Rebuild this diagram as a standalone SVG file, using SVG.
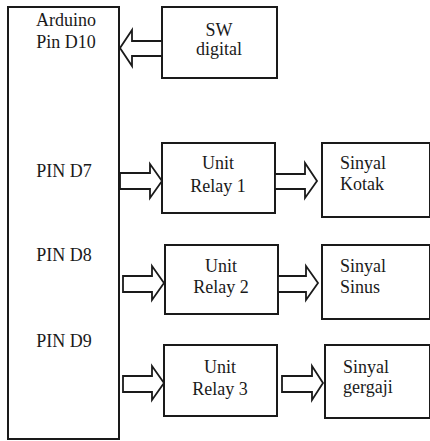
<svg xmlns="http://www.w3.org/2000/svg" width="430" height="441" viewBox="0 0 430 441">
<style>
.box{fill:#fff;stroke:#1a1a1a;stroke-width:2}
.arr{fill:#fff;stroke:#1a1a1a;stroke-width:1.8;stroke-linejoin:miter}
.t{font-family:'Liberation Serif','Times New Roman',serif;font-size:18px;fill:#1a1a1a}
.c{text-anchor:middle}
</style>
<rect width="430" height="441" fill="#fff"/>
<g id="arduino">
<rect class="box" x="8" y="7" width="111" height="432"/>
<text class="t c" x="66" y="26">Arduino</text>
<text class="t c" x="66" y="48">Pin D10</text>
<text class="t c" x="64" y="177">PIN D7</text>
<text class="t c" x="64" y="261">PIN D8</text>
<text class="t c" x="64" y="347">PIN D9</text>
</g>
<g id="sw">
<rect class="box" x="162" y="7" width="115" height="71"/>
<text class="t c" x="219" y="36">SW</text>
<text class="t c" x="219" y="55">digital</text>
</g>
<g id="relay1">
<rect class="box" x="162" y="143" width="113" height="70"/>
<text class="t c" x="218" y="169">Unit</text>
<text class="t c" x="218" y="192">Relay 1</text>
</g>
<g id="relay2">
<rect class="box" x="165" y="245" width="113" height="69"/>
<text class="t c" x="221" y="272">Unit</text>
<text class="t c" x="221" y="293">Relay 2</text>
</g>
<g id="relay3">
<rect class="box" x="164" y="345" width="113" height="71"/>
<text class="t c" x="220" y="373">Unit</text>
<text class="t c" x="220" y="395">Relay 3</text>
</g>
<g id="kotak">
<rect class="box" x="322" y="143" width="108" height="74"/>
<text class="t" x="340" y="169">Sinyal</text>
<text class="t" x="340" y="190">Kotak</text>
</g>
<g id="sinus">
<rect class="box" x="322" y="245" width="108" height="74"/>
<text class="t" x="340" y="272">Sinyal</text>
<text class="t" x="340" y="293">Sinus</text>
</g>
<g id="gergaji">
<rect class="box" x="325" y="345" width="105" height="73"/>
<text class="t" x="343" y="373">Sinyal</text>
<text class="t" x="343" y="393">gergaji</text>
</g>
<g id="connectors">
<polygon class="arr" points="162,41 132,41 132,30 120,48 132,66 132,56 162,56"/>
<polygon class="arr" points="120,173 150,173 150,164 162,181 150,198 150,189 120,189"/>
<polygon class="arr" points="275,174 305,174 305,163 317,181 305,198 305,189 275,189"/>
<polygon class="arr" points="123,276 152,276 152,266 164,283 152,300 152,292 123,292"/>
<polygon class="arr" points="278,276 306,276 306,266 318,283 306,300 306,292 278,292"/>
<polygon class="arr" points="123,376 152,376 152,366 164,383 152,400 152,392 123,392"/>
<polygon class="arr" points="282,376 312,376 312,366 323,383 312,400 312,392 282,392"/>
</g>
</svg>
